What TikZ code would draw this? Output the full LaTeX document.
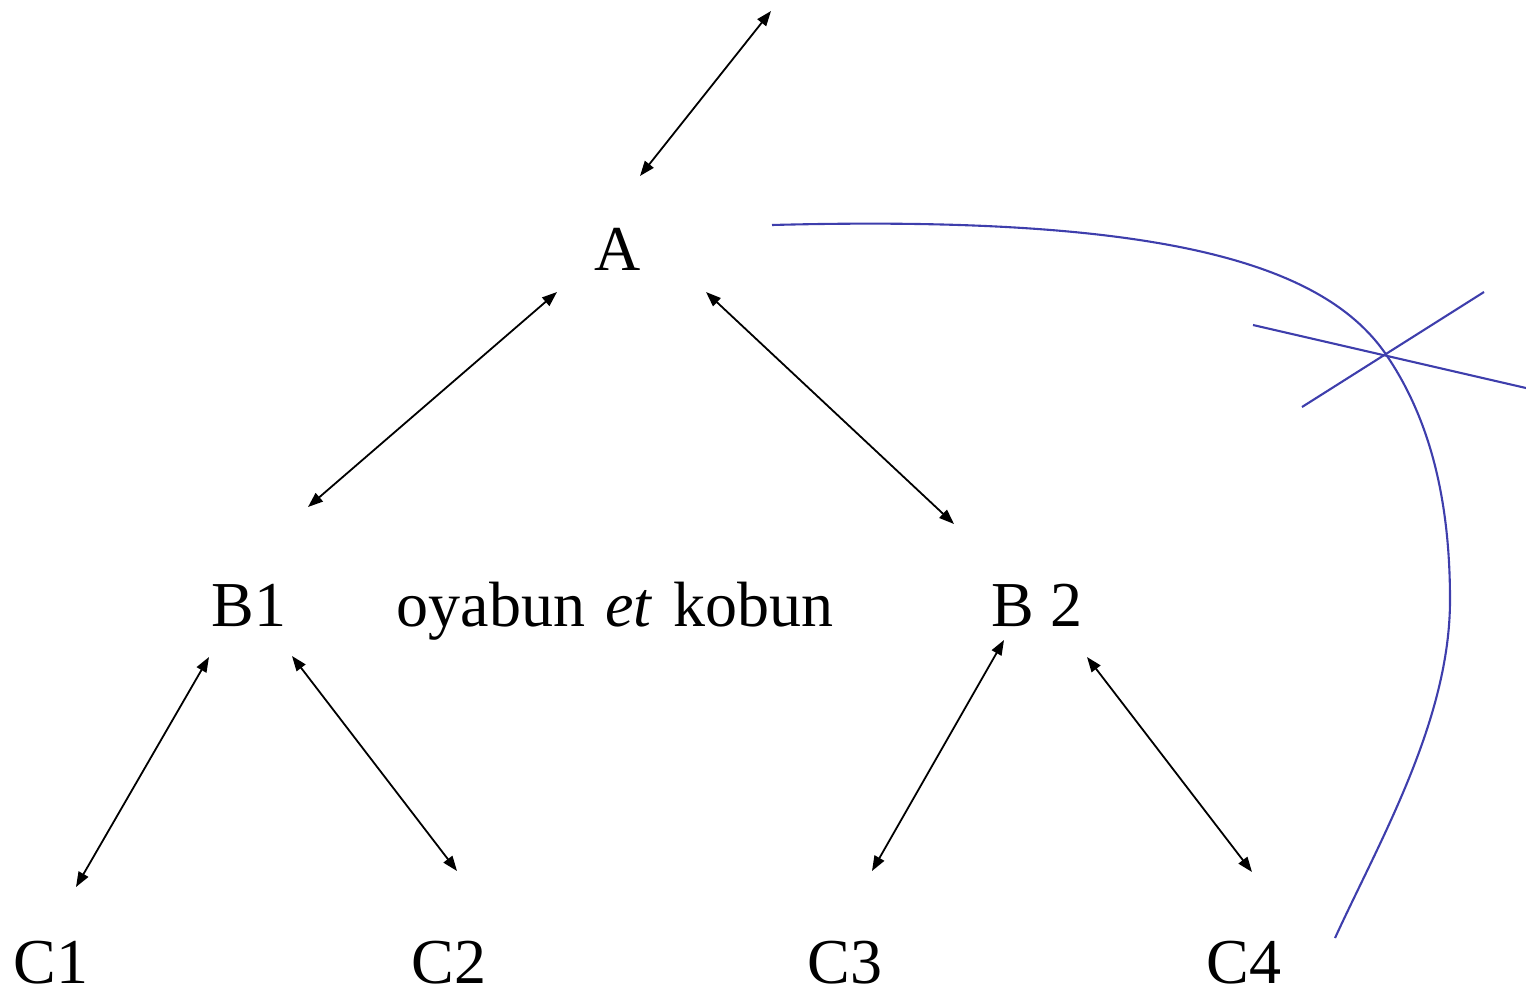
\documentclass[tikz,border=0pt]{standalone}
\usepackage{fontspec}
\setmainfont{Liberation Serif}
\usetikzlibrary{arrows.meta}
\begin{document}
\begin{tikzpicture}[x=1pt,y=-1pt,
  lbl/.style={anchor=base,inner sep=0pt,font=\fontsize{64}{77}\selectfont},
  link/.style={line width=1.8pt,{Triangle[length=15pt,width=11pt]}-{Triangle[length=15pt,width=11pt]}},
  blueline/.style={line width=2.1pt,color=bl}]
\definecolor{bl}{RGB}{62,62,172}
\useasboundingbox (0,0) rectangle (1526,991);
% labels
\node[lbl] (A) at (618,270) {A};
\node[lbl] (B1) at (249,626) {B1};
\node[lbl] (oy) at (615,626) {oyabun\hspace{0.32em}\textit{et}\hspace{0.32em}kobun};
\node[lbl] (B2) at (1037,626) {B 2};
\node[lbl] (C1) at (51,983) {C1};
\node[lbl] (C2) at (449,983) {C2};
\node[lbl] (C3) at (845,983) {C3};
\node[lbl] (C4) at (1244,983) {C4};
% arrow endpoints
\coordinate (top) at (771,11);
\coordinate (Atop) at (640,176);
\coordinate (Abl) at (557,292);
\coordinate (Abr) at (706,292);
\coordinate (B1t) at (308,507);
\coordinate (B2t) at (954,524);
\coordinate (B1bl) at (209,657);
\coordinate (B1br) at (292,656);
\coordinate (B2bl) at (1004,640);
\coordinate (B2br) at (1087,657);
\coordinate (C1t) at (76,887);
\coordinate (C2t) at (457,871);
\coordinate (C3t) at (872,871);
\coordinate (C4t) at (1252,872);
\draw[link] (top) -- (Atop);
\draw[link] (Abl) -- (B1t);
\draw[link] (Abr) -- (B2t);
\draw[link] (B1bl) -- (C1t);
\draw[link] (B1br) -- (C2t);
\draw[link] (B2bl) -- (C3t);
\draw[link] (B2br) -- (C4t);
% blue curve and cross
\coordinate (cs) at (772,225);
\coordinate (cx) at (1385,353);
\coordinate (cm) at (1450,600);
\coordinate (ce) at (1335,938);
\draw[blueline] (cs) .. controls (1150,215) and (1320,260) .. (cx)
  .. controls (1430,418) and (1450,500) .. (cm)
  .. controls (1450,720) and (1380,840) .. (ce);
\coordinate (x1a) at (1253,325);
\coordinate (x1b) at (1526,388);
\coordinate (x2a) at (1302,407);
\coordinate (x2b) at (1484,292);
\draw[blueline] (x1a) -- (x1b);
\draw[blueline] (x2a) -- (x2b);
\end{tikzpicture}
\end{document}
